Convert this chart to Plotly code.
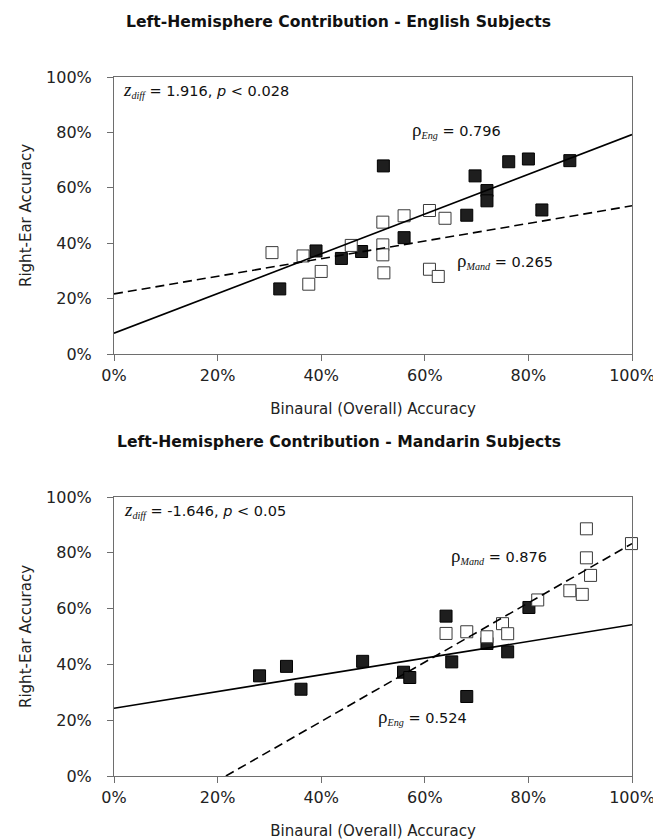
import plotly.graph_objects as go
from plotly.subplots import make_subplots

# ---------------- data (percent) ----------------
# Top panel: English subjects
top_eng_x = [52, 69.7, 76.2, 80.0, 88.0, 72.0, 72.0, 82.6, 68.1, 56.0, 39.0, 43.9, 47.8, 32.0]
top_eng_y = [67.9, 64.3, 69.4, 70.4, 69.8, 59.0, 55.3, 52.0, 50.1, 42.0, 37.2, 34.5, 37.0, 23.5]
top_mand_x = [30.5, 36.5, 37.6, 40.0, 45.8, 51.9, 51.9, 51.9, 52.1, 56.0, 60.9, 63.9, 60.9, 62.6]
top_mand_y = [36.6, 35.4, 25.2, 29.8, 39.2, 47.6, 39.4, 35.8, 29.3, 49.9, 51.8, 49.0, 30.6, 28.0]
top_eng_fit_x = [0, 100]
top_eng_fit_y = [7.5, 79.2]
top_mand_fit_x = [0, 100]
top_mand_fit_y = [21.7, 53.5]

# Bottom panel: Mandarin subjects
bot_eng_x = [28.1, 33.3, 36.1, 48.0, 55.9, 57.1, 64.1, 65.2, 68.1, 72.0, 76.0, 80.1]
bot_eng_y = [35.9, 39.3, 31.1, 41.1, 37.2, 35.3, 57.3, 40.9, 28.5, 47.5, 44.5, 60.4]
bot_mand_x = [64.1, 68.1, 72.0, 75.0, 76.0, 81.8, 88.0, 90.4, 92.0, 91.2, 91.2, 99.9]
bot_mand_y = [51.1, 51.7, 49.9, 54.6, 51.0, 63.1, 66.4, 65.1, 71.9, 78.2, 88.6, 83.3]
bot_eng_fit_x = [0, 100]
bot_eng_fit_y = [24.3, 54.2]
bot_mand_fit_x = [21.6, 100]
bot_mand_fit_y = [0, 83.3]

tick_vals = [0, 20, 40, 60, 80, 100]
tick_text = ["0%", "20%", "40%", "60%", "80%", "100%"]

titles = ["Left-Hemisphere Contribution - English Subjects",
          "Left-Hemisphere Contribution - Mandarin Subjects"]
x_title = "Binaural (Overall) Accuracy"
y_title = "Right-Ear Accuracy"

FONT = "DejaVu Sans, Arial, sans-serif"
SERIF = "Liberation Serif, Times New Roman, serif"

fig = make_subplots(rows=2, cols=1, vertical_spacing=0.2)

H = 840; W = 661
mt, mb, ml, mr = 69, 72, 106, 37
ph = H - mt - mb
top_dom = [(768 - 346) / ph, 1.0]
bot_dom = [0.0, (768 - 489) / ph]

def add_panel(row, ex, ey, mx, my, efx, efy, mfx, mfy):
    fig.add_trace(go.Scatter(x=ex, y=ey, mode="markers", cliponaxis=False,
                             marker=dict(symbol="square", size=12, color="#1e1e1e",
                                         line=dict(color="#000000", width=1)),
                             showlegend=False), row=row, col=1)
    fig.add_trace(go.Scatter(x=mx, y=my, mode="markers", cliponaxis=False,
                             marker=dict(symbol="square", size=12, color="white",
                                         line=dict(color="#3a3a3a", width=1)),
                             showlegend=False), row=row, col=1)
    fig.add_trace(go.Scatter(x=efx, y=efy, mode="lines",
                             line=dict(color="black", width=1.6),
                             showlegend=False), row=row, col=1)
    fig.add_trace(go.Scatter(x=mfx, y=mfy, mode="lines",
                             line=dict(color="black", width=1.6, dash="9px,5px"),
                             showlegend=False), row=row, col=1)

add_panel(1, top_eng_x, top_eng_y, top_mand_x, top_mand_y,
          top_eng_fit_x, top_eng_fit_y, top_mand_fit_x, top_mand_fit_y)
add_panel(2, bot_eng_x, bot_eng_y, bot_mand_x, bot_mand_y,
          bot_eng_fit_x, bot_eng_fit_y, bot_mand_fit_x, bot_mand_fit_y)

axis_common = dict(range=[0, 100], tickmode="array", tickvals=tick_vals, ticktext=tick_text,
                   showgrid=False, zeroline=False, showline=True, linecolor="#6e6e6e",
                   linewidth=1, mirror=True, ticks="outside", ticklen=6, tickcolor="#6e6e6e",
                   automargin=False,
                   tickfont=dict(family=FONT, size=16, color="#222"))

for r, dom in [(1, top_dom), (2, bot_dom)]:
    fig.update_xaxes(**axis_common, row=r, col=1, ticklabelstandoff=1,
                     title=dict(text=x_title, font=dict(family=FONT, size=15, color="#222"),
                                standoff=19))
    fig.update_yaxes(**axis_common, row=r, col=1, domain=dom, ticklabelstandoff=12,
                     title=dict(text=y_title, font=dict(family=FONT, size=15, color="#222"),
                                standoff=10))

def zdiff(val, p):
    return (f"<span style='font-family:{SERIF};font-size:19px'><i>z</i></span>"
            f"<span style='font-family:{SERIF}'><sub><i>diff</i></sub></span>"
            f" = {val}, <i>p</i> &lt; {p}")

def rho(sub, val):
    return (f"<span style='font-family:{SERIF};font-size:19px'>ρ</span>"
            f"<span style='font-family:{SERIF}'><sub><i>{sub}</i></sub></span> = {val}")

ann = [
    (1, 2.0, 92.9, zdiff("1.916", "0.028")),
    (1, 57.8, 78.4, rho("Eng", "0.796")),
    (1, 66.4, 31.0, rho("Mand", "0.265")),
    (2, 2.2, 92.9, zdiff("-1.646", "0.05")),
    (2, 65.2, 76.4, rho("Mand", "0.876")),
    (2, 51.2, 18.6, rho("Eng", "0.524")),
]
for r, x, y, t in ann:
    xr = "x" if r == 1 else "x2"
    yr = "y" if r == 1 else "y2"
    fig.add_annotation(x=x, y=y, xref=xr, yref=yr, text=t, showarrow=False,
                       xanchor="left", yanchor="middle", xshift=-3, yshift=7,
                       font=dict(family=FONT, size=14.5, color="#111"))

for yp, t in [((768 - 20) / ph, titles[0]), ((768 - 440) / ph, titles[1])]:
    fig.add_annotation(x=(W / 2 - ml) / (W - ml - mr), y=yp, xref="paper", yref="paper",
                       text=f"<b>{t}</b>", showarrow=False, xanchor="center", yanchor="middle",
                       yshift=6, font=dict(family=FONT, size=15.6, color="#111"))

fig.update_layout(width=W, height=H, margin=dict(l=ml, r=mr, t=mt, b=mb, autoexpand=False),
                  paper_bgcolor="white", plot_bgcolor="white", showlegend=False)

fig.write_html("out.html")
